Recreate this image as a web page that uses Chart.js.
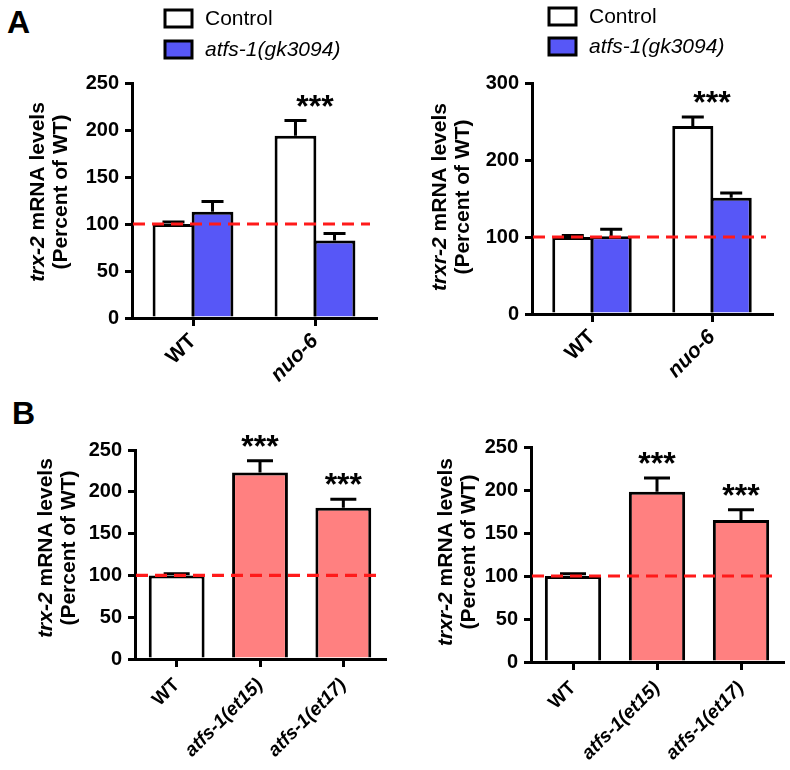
<!DOCTYPE html>
<html><head><meta charset="utf-8">
<script src="https://cdn.jsdelivr.net/npm/chart.js@4.4.1/dist/chart.umd.min.js"></script>
<style>
html,body{margin:0;padding:0;background:#fff;width:790px;height:770px;overflow:hidden;position:relative;}
canvas{position:absolute;}
.lbl{position:absolute;font:bold 32px "Liberation Sans",Arial,sans-serif;line-height:32px;}
</style></head><body>
<div class="lbl" style="left:7px;top:6px">A</div>
<div class="lbl" style="left:12px;top:397px">B</div>
<canvas id="a1" width="395" height="400" style="left:0;top:0"></canvas>
<canvas id="a2" width="395" height="400" style="left:395px;top:0"></canvas>
<canvas id="b1" width="395" height="390" style="left:0;top:380px"></canvas>
<canvas id="b2" width="395" height="390" style="left:395px;top:380px"></canvas>
<script>
// ---------- data ----------
const groupsA = ['WT', 'nuo-6'];
const legendLabels = ['Control', 'atfs-1(gk3094)'];
const trx2Control = [100, 194];
const trx2ControlSem = [2, 16];
const trx2Atfs = [113, 82.5];
const trx2AtfsSem = [11, 7.5];
const trxr2Control = [100, 244];
const trxr2ControlSem = [2, 12];
const trxr2Atfs = [101, 151];
const trxr2AtfsSem = [9, 6];
const starsA = ['', '***'];

const strainsB = ['WT', 'atfs-1(et15)', 'atfs-1(et17)'];
const trx2B = [100, 223, 181];
const trx2BSem = [2, 14, 10];
const trxr2B = [100, 198, 165];
const trxr2BSem = [2.5, 16, 12];
const starsB = ['', '***', '***'];

const ticksTrx2 = [0, 50, 100, 150, 200, 250];
const ticksTrxr2A = [0, 100, 200, 300];
const ticksTrxr2B = [0, 50, 100, 150, 200, 250];
const referenceLevel = 100;

// ---------- styles ----------
const FONT = '"Liberation Sans", Arial, Helvetica, sans-serif';
const BLUE = '#5757f7';
const PINK = '#ff8080';
function fnt(size, weight, style) { return (style || 'normal') + ' ' + (weight || 'normal') + ' ' + size + 'px ' + FONT; }

function drawParts(ctx, parts, cx, cy, size, weight) {
  let total = 0;
  parts.forEach(p => { ctx.font = fnt(size, weight, p.it ? 'italic' : 'normal'); p.w = ctx.measureText(p.t).width; total += p.w; });
  let x = cx - total / 2;
  ctx.textAlign = 'left';
  parts.forEach(p => { ctx.font = fnt(size, weight, p.it ? 'italic' : 'normal'); ctx.fillText(p.t, x, cy); x += p.w; });
}

const decor = {
  id: 'decor',
  afterDatasetsDraw(chart) {
    const o = chart.options.plugins.decor;
    const ctx = chart.ctx, ys = chart.scales.y, xs = chart.scales.x, ca = chart.chartArea;
    ctx.save();
    // error bars
    const tops = [];
    chart.data.datasets.forEach((ds, d) => {
      const meta = chart.getDatasetMeta(d);
      meta.data.forEach((bar, i) => {
        const top = ys.getPixelForValue(ds.data[i] + o.sem[d][i]);
        tops[i] = Math.min(tops[i] === undefined ? 1e9 : tops[i], top);
        ctx.strokeStyle = '#000'; ctx.lineWidth = 3; ctx.lineCap = 'butt';
        ctx.beginPath();
        ctx.moveTo(bar.x, bar.y); ctx.lineTo(bar.x, top);
        ctx.moveTo(bar.x - o.cap / 2, top); ctx.lineTo(bar.x + o.cap / 2, top);
        ctx.stroke();
      });
    });
    // reference dashed line
    const yr = ys.getPixelForValue(referenceLevel);
    ctx.strokeStyle = '#ff1a1a'; ctx.lineWidth = 3.2; ctx.setLineDash([12, 7]);
    ctx.beginPath(); ctx.moveTo(ca.left + 1, yr); ctx.lineTo(ca.right - 6, yr); ctx.stroke();
    ctx.setLineDash([]);
    // stars
    ctx.fillStyle = '#000'; ctx.font = fnt(32, 'bold'); ctx.textAlign = 'center'; ctx.textBaseline = 'alphabetic';
    o.stars.forEach((s, i) => { if (s) ctx.fillText(s, xs.getPixelForValue(i), tops[i] - 4); });
    ctx.restore();
  },
  afterDraw(chart) {
    const o = chart.options.plugins.decor;
    const ctx = chart.ctx;
    ctx.save();
    ctx.fillStyle = '#000'; ctx.textBaseline = 'middle';
    // y title
    const lines = [o.title1, [{ t: '(Percent of WT)' }]];
    lines.forEach((parts, k) => {
      ctx.save();
      ctx.translate(o.titleX[k], o.titleY);
      ctx.rotate(-Math.PI / 2);
      drawParts(ctx, parts, 0, 0, 21, 'bold');
      ctx.restore();
    });
    // legend
    if (o.legend) {
      chart.data.datasets.forEach((ds, d) => {
        const L = o.legend;
        ctx.fillStyle = ds.backgroundColor;
        ctx.fillRect(L.boxX, L.boxY[d], 27, 17);
        ctx.strokeStyle = '#000'; ctx.lineWidth = 3;
        ctx.strokeRect(L.boxX, L.boxY[d], 27, 17);
        ctx.fillStyle = '#000'; ctx.textAlign = 'left'; ctx.textBaseline = 'middle';
        ctx.font = fnt(21, 'normal', d === 1 ? 'italic' : 'normal');
        ctx.fillText(ds.label, L.textX, L.boxY[d] + 9);
      });
    }
    ctx.restore();
  }
};

function makeChart(id, g) {
  return new Chart(document.getElementById(id), {
    type: 'bar',
    data: { labels: g.labels, datasets: g.datasets },
    options: {
      responsive: false, animation: false, devicePixelRatio: 1,
      layout: { autoPadding: false, padding: { top: g.padTop, right: g.padRight, left: 0, bottom: 0 } },
      datasets: { bar: { categoryPercentage: g.catPct, barPercentage: g.barPct, borderColor: '#000', borderWidth: 3 } },
      plugins: {
        legend: { display: false }, tooltip: { enabled: false },
        decor: { sem: g.sem, cap: g.cap, stars: g.stars, title1: g.title1, titleX: g.titleX, titleY: g.titleY, legend: g.legend }
      },
      scales: {
        x: {
          afterFit: s => { s.height = g.xHeight; },
          border: { display: true, color: '#000', width: 3 },
          grid: { display: true, drawOnChartArea: false, offset: false, tickLength: 8, lineWidth: 3, color: '#000' },
          ticks: {
            autoSkip: false, minRotation: 45, maxRotation: 45, padding: g.xPad, color: '#000',
            font: c => ({ family: FONT, size: g.xFont, weight: 'bold', style: g.italicTick(c.index) ? 'italic' : 'normal' })
          }
        },
        y: {
          min: g.ticks[0], max: g.ticks[g.ticks.length - 1],
          afterFit: s => { s.width = g.yWidth; },
          border: { display: true, color: '#000', width: 3 },
          grid: { display: true, drawOnChartArea: false, tickLength: 7, lineWidth: 3, color: '#000' },
          ticks: { stepSize: g.ticks[1] - g.ticks[0], padding: 6, color: '#000', font: { family: FONT, size: 20, weight: 'bold' } }
        }
      }
    },
    plugins: [decor]
  });
}

makeChart('a1', {
  labels: groupsA,
  datasets: [
    { label: legendLabels[0], data: trx2Control, backgroundColor: '#ffffff' },
    { label: legendLabels[1], data: trx2Atfs, backgroundColor: BLUE }
  ],
  sem: [trx2ControlSem, trx2AtfsSem], cap: 22, stars: starsA, ticks: ticksTrx2,
  title1: [{ t: 'trx-2', it: true }, { t: ' mRNA levels' }], titleX: [38.5, 61.5], titleY: 192,
  legend: { boxX: 165, boxY: [10, 41], textX: 205 },
  padTop: 83, padRight: 19, xHeight: 82, yWidth: 132, catPct: 0.64, barPct: 1.07, xFont: 21, xPad: 3,
  italicTick: i => i === 1
});
makeChart('a2', {
  labels: groupsA,
  datasets: [
    { label: legendLabels[0], data: trxr2Control, backgroundColor: '#ffffff' },
    { label: legendLabels[1], data: trxr2Atfs, backgroundColor: BLUE }
  ],
  sem: [trxr2ControlSem, trxr2AtfsSem], cap: 22, stars: starsA, ticks: ticksTrxr2A,
  title1: [{ t: 'trxr-2', it: true }, { t: ' mRNA levels' }], titleX: [45, 68], titleY: 197,
  legend: { boxX: 154, boxY: [8, 38], textX: 194 },
  padTop: 83, padRight: 18, xHeight: 86, yWidth: 137, catPct: 0.64, barPct: 1.07, xFont: 21, xPad: 3,
  italicTick: i => i === 1
});
makeChart('b1', {
  labels: strainsB,
  datasets: [{ label: 'trx-2', data: trx2B, backgroundColor: ['#ffffff', PINK, PINK] }],
  sem: [trx2BSem], cap: 26, stars: starsB, ticks: ticksTrx2,
  title1: [{ t: 'trx-2', it: true }, { t: ' mRNA levels' }], titleX: [46, 69], titleY: 168,
  legend: null,
  padTop: 70, padRight: 10, xHeight: 111, yWidth: 135, catPct: 0.67, barPct: 1, xFont: 19, xPad: 7,
  italicTick: i => i > 0
});
makeChart('b2', {
  labels: strainsB,
  datasets: [{ label: 'trxr-2', data: trxr2B, backgroundColor: ['#ffffff', PINK, PINK] }],
  sem: [trxr2BSem], cap: 26, stars: starsB, ticks: ticksTrxr2B,
  title1: [{ t: 'trxr-2', it: true }, { t: ' mRNA levels' }], titleX: [51, 74], titleY: 172,
  legend: null,
  padTop: 67, padRight: 7, xHeight: 108, yWidth: 136, catPct: 0.67, barPct: 1, xFont: 19, xPad: 7,
  italicTick: i => i > 0
});
</script>
</body></html>
